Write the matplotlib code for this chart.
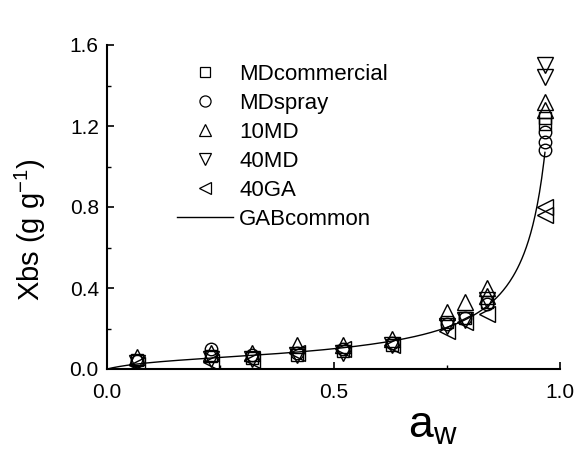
import numpy as np
import matplotlib
matplotlib.use("Agg")
import matplotlib.pyplot as plt
from matplotlib.lines import Line2D

plt.rcParams['font.family'] = ['Liberation Sans', 'DejaVu Sans']
plt.rcParams['mathtext.fontset'] = 'custom'
plt.rcParams['mathtext.rm'] = 'Liberation Sans'

# --- data ---
aw_md_comm = [0.066, 0.23, 0.32, 0.42, 0.52, 0.63, 0.75, 0.79, 0.84, 0.967, 0.967]
x_md_comm  = [0.045, 0.065, 0.055, 0.07, 0.09, 0.12, 0.23, 0.25, 0.33, 1.24, 1.21]

aw_md_spray = [0.066, 0.23, 0.32, 0.42, 0.52, 0.63, 0.75, 0.79, 0.84, 0.967, 0.967, 0.967]
x_md_spray  = [0.04, 0.10, 0.07, 0.08, 0.10, 0.13, 0.22, 0.25, 0.32, 1.17, 1.12, 1.08]

aw_10md = [0.066, 0.23, 0.32, 0.42, 0.52, 0.63, 0.75, 0.79, 0.84, 0.84, 0.967, 0.967]
x_10md  = [0.06, 0.08, 0.08, 0.12, 0.12, 0.15, 0.28, 0.33, 0.40, 0.36, 1.32, 1.28]

aw_40md = [0.066, 0.23, 0.32, 0.42, 0.52, 0.63, 0.75, 0.79, 0.84, 0.967, 0.967]
x_40md  = [0.03, 0.05, 0.05, 0.07, 0.08, 0.12, 0.21, 0.24, 0.34, 1.50, 1.44]

aw_40ga = [0.066, 0.23, 0.32, 0.42, 0.52, 0.63, 0.75, 0.79, 0.84, 0.967, 0.967]
x_40ga  = [0.02, 0.035, 0.045, 0.08, 0.10, 0.12, 0.19, 0.23, 0.27, 0.80, 0.76]

# GAB common model parameters
gab_xm, gab_c, gab_k = 0.0563, 10.0, 0.98
aw_curve = np.linspace(0.0, 0.967, 400)
u = gab_k * aw_curve
x_curve = gab_xm * gab_c * u / ((1 - u) * (1 + (gab_c - 1) * u))

fig = plt.figure(figsize=(5.76, 4.5), dpi=100)
ax = fig.add_axes([0.186, 0.18, 0.786, 0.72])

ms = 9
common = dict(linestyle='none', markerfacecolor='none', markeredgecolor='black',
              markeredgewidth=1.0, markersize=ms)
ax.plot(aw_md_comm, x_md_comm, marker='s', **common)
ax.plot(aw_md_spray, x_md_spray, marker='o', **common)
ax.plot(aw_10md, x_10md, marker='^', **dict(common, markersize=ms + 2))
ax.plot(aw_40md, x_40md, marker='v', **dict(common, markersize=ms + 2))
ax.plot(aw_40ga, x_40ga, marker='<', **dict(common, markersize=ms + 2))
ax.plot(aw_curve, x_curve, color='black', linewidth=1.0)

ax.set_xlim(0, 1.0)
ax.set_ylim(0, 1.6)
ax.set_xticks([0.0, 0.5, 1.0])
ax.set_xticks([0.25, 0.75], minor=True)
ax.set_yticks([0.0, 0.4, 0.8, 1.2, 1.6])
ax.set_yticks([0.2, 0.6, 1.0, 1.4], minor=True)
ax.xaxis.set_major_formatter(matplotlib.ticker.FormatStrFormatter('%.1f'))
ax.yaxis.set_major_formatter(matplotlib.ticker.FormatStrFormatter('%.1f'))
ax.tick_params(which='major', direction='in', length=5, width=1.2, labelsize=15)
ax.tick_params(axis='x', which='major', pad=10)
ax.tick_params(axis='y', which='major', pad=6)
ax.tick_params(which='minor', direction='in', length=3, width=1.0)
for s in ['top', 'right']:
    ax.spines[s].set_visible(False)
for s in ['left', 'bottom']:
    ax.spines[s].set_linewidth(1.5)

ax.set_ylabel('Xbs (g g$^{\\mathregular{-1}}$)', fontsize=21)
ax.yaxis.set_label_coords(-0.13, 0.43)
ax.set_xlabel('a$_{\\mathregular{w}}$', fontsize=32)
ax.xaxis.set_label_coords(0.72, -0.115)

lk = dict(linestyle='none', markerfacecolor='none', markeredgecolor='black', markeredgewidth=0.9)
handles = [
    Line2D([], [], marker='s', markersize=7, **lk),
    Line2D([], [], marker='o', markersize=8, **lk),
    Line2D([], [], marker='^', markersize=9, **lk),
    Line2D([], [], marker='v', markersize=9, **lk),
    Line2D([], [], marker='<', markersize=9, **lk),
    Line2D([], [], color='black', linewidth=1.0),
]
labels = ['MDcommercial', 'MDspray', '10MD', '40MD', '40GA', 'GABcommon']
ax.legend(handles, labels, loc='upper left', bbox_to_anchor=(0.135, 0.97),
          frameon=False, fontsize=16, handlelength=2.5, handletextpad=0.3,
          labelspacing=0.36, borderaxespad=0)

fig.savefig('out.png', dpi=100)
